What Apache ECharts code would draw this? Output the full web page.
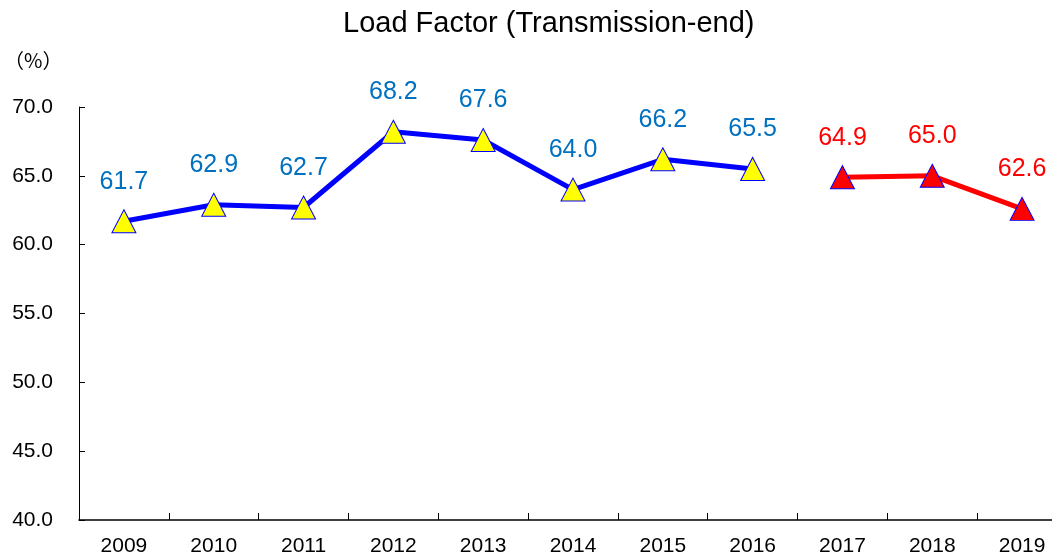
<!DOCTYPE html>
<html>
<head>
<meta charset="utf-8">
<script src="https://cdn.jsdelivr.net/npm/echarts@6/dist/echarts.min.js"></script>
<style>
  html, body { margin: 0; padding: 0; background: #fff; overflow: hidden; }
  /* plot runs a little past the window's right edge, like the original */
  #chart { width: 1068px; height: 559px; }
</style>
</head>
<body>
<div id="chart"></div>
<script>
// categories and values
const years = ['2009', '2010', '2011', '2012', '2013', '2014', '2015', '2016', '2017', '2018', '2019']
const actual = [61.7, 62.9, 62.7, 68.2, 67.6, 64.0, 66.2, 65.5, null, null, null]
const recent = [null, null, null, null, null, null, null, null, 64.9, 65.0, 62.6]

const font = '"Liberation Sans", Arial, sans-serif'

const chart = echarts.init(document.getElementById('chart'))

const labelOf = (color) => ({
  show: true,
  position: 'top',
  distance: 15,
  color: color,
  fontSize: 25,
  fontFamily: font,
  formatter: (p) => p.value == null ? '' : Number(p.value).toFixed(1),
})

const option = {
  animation: false,
  title: {
    text: 'Load Factor (Transmission-end)',
    left: 338,
    top: 4,
    textStyle: { fontSize: 29, fontWeight: 'normal', color: '#000', fontFamily: font },
  },
  graphic: [
    {
      type: 'text',
      left: 4,
      top: 50,
      style: { text: '（%）', fontSize: 20, fill: '#000', fontFamily: '"Noto Sans CJK JP", sans-serif' },
    },
  ],
  grid: {
    left: 79,
    top: 107,
    right: 1,
    height: 413,
  },
  xAxis: {
    type: 'category',
    data: years,
    boundaryGap: true,
    axisLine: { lineStyle: { color: '#000', width: 1.5 } },
    axisTick: { show: true, inside: true, length: 7, lineStyle: { color: '#000', width: 1 } },
    axisLabel: { color: '#000', fontSize: 21, fontFamily: font, margin: 16 },
  },
  yAxis: {
    type: 'value',
    min: 40,
    max: 70,
    interval: 5,
    axisLine: { show: true, lineStyle: { color: '#000', width: 1 } },
    axisTick: { show: true, inside: true, length: 6, lineStyle: { color: '#000' } },
    splitLine: { show: false },
    axisLabel: {
      color: '#000',
      fontSize: 21,
      fontFamily: font,
      margin: 26,
      formatter: (v) => v.toFixed(1),
    },
  },
  series: [
    {
      name: 'actual',
      type: 'line',
      data: actual,
      connectNulls: false,
      symbol: 'triangle',
      symbolSize: [24, 23],
      lineStyle: { color: '#0000ff', width: 5 },
      itemStyle: { color: '#ffff00', borderColor: '#0000ff', borderWidth: 1 },
      label: labelOf('#0070c0'),
    },
    {
      name: 'recent',
      type: 'line',
      data: recent,
      connectNulls: false,
      symbol: 'triangle',
      symbolSize: [24, 23],
      lineStyle: { color: '#ff0000', width: 5 },
      itemStyle: { color: '#ff0000', borderColor: '#0000ff', borderWidth: 1 },
      label: labelOf('#ff0000'),
    },
  ],
}

chart.setOption(option)
window.addEventListener('resize', function () {
  chart.resize()
})
</script>
</body>
</html>
